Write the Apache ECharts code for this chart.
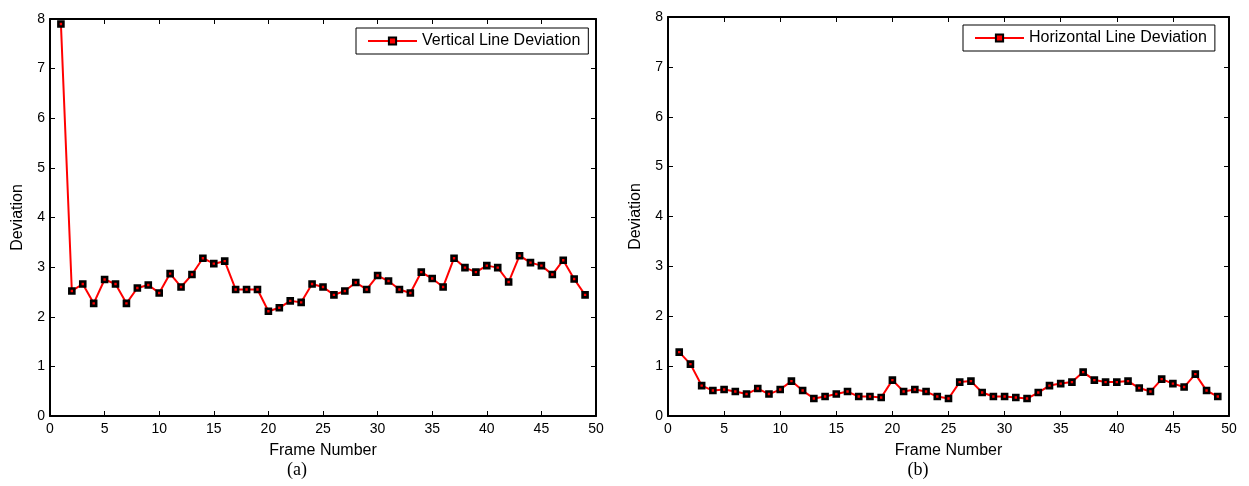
<!DOCTYPE html>
<html>
<head>
<meta charset="utf-8">
<script src="https://cdn.jsdelivr.net/npm/echarts@6/dist/echarts.min.js"></script>
<style>html,body{margin:0;padding:0;background:#fff;}#c{width:1249px;height:486px;}</style>
</head>
<body>
<div id="c"></div>
<script>
const frames = Array.from({length: 49}, (_, i) => i + 1);
const verticalDev = [7.90, 2.52, 2.66, 2.27, 2.75, 2.66, 2.27, 2.58, 2.64, 2.48,
  2.87, 2.60, 2.85, 3.18, 3.07, 3.12, 2.55, 2.55, 2.55, 2.11,
  2.18, 2.32, 2.29, 2.66, 2.60, 2.44, 2.52, 2.69, 2.55, 2.83,
  2.72, 2.55, 2.48, 2.90, 2.77, 2.60, 3.18, 2.99, 2.90, 3.03,
  2.99, 2.70, 3.23, 3.09, 3.03, 2.85, 3.14, 2.76, 2.44];
const horizontalDev = [1.28, 1.04, 0.61, 0.51, 0.53, 0.49, 0.44, 0.55, 0.44, 0.53,
  0.70, 0.51, 0.35, 0.39, 0.44, 0.49, 0.39, 0.39, 0.37, 0.72,
  0.49, 0.53, 0.49, 0.39, 0.35, 0.68, 0.70, 0.47, 0.39, 0.39,
  0.37, 0.35, 0.47, 0.61, 0.65, 0.68, 0.88, 0.72, 0.68, 0.68,
  0.70, 0.56, 0.49, 0.74, 0.65, 0.58, 0.84, 0.51, 0.39];
const seriesNames = ['Vertical Line Deviation', 'Horizontal Line Deviation'];
const xTitle = 'Frame Number';
const yTitle = 'Deviation';
const panelLabels = ['(a)', '(b)'];

const FONT = 'Liberation Sans, Arial, sans-serif';
const axisLine = {show: true, onZero: false, lineStyle: {color: '#000', width: 2}};
const tick = {show: true, inside: true, length: 5, lineStyle: {color: '#000', width: 1}};

function xAx(gi, pos, main) {
  return {
    type: 'value', gridIndex: gi, position: pos, min: 0, max: 50, interval: 5,
    axisLine: axisLine, axisTick: tick, splitLine: {show: false},
    axisLabel: {show: main, color: '#000', fontSize: 14, fontFamily: FONT, margin: 6},
    name: main ? xTitle : '', nameLocation: 'middle', nameGap: 27,
    nameTextStyle: {color: '#000', fontSize: 16, fontFamily: FONT}
  };
}
function yAx(gi, pos, main) {
  return {
    type: 'value', gridIndex: gi, position: pos, min: 0, max: 8, interval: 1,
    axisLine: axisLine, axisTick: tick, splitLine: {show: false},
    axisLabel: {show: main, color: '#000', fontSize: 14, fontFamily: FONT, margin: 5},
    name: main ? yTitle : '', nameLocation: 'middle', nameGap: 24,
    nameTextStyle: {color: '#000', fontSize: 16, fontFamily: FONT}
  };
}
function ser(name, data, xi, yi) {
  return {
    name: name, type: 'line', xAxisIndex: xi, yAxisIndex: yi,
    data: frames.map((f, i) => [f, data[i]]),
    lineStyle: {color: '#ff0000', width: 2},
    symbol: 'rect', symbolSize: 5,
    itemStyle: {color: '#ff0000', borderColor: '#000', borderWidth: 2.6},
    animation: false
  };
}
function legend(name, left, top) {
  return {
    data: [name], left: left, top: top, orient: 'horizontal',
    backgroundColor: '#fff', borderColor: '#000', borderWidth: 1,
    padding: [5, 8, 5, 11], itemWidth: 49, itemHeight: 9,
    textStyle: {color: '#000', fontSize: 16, fontFamily: FONT},
    selectedMode: false
  };
}

const chart = echarts.init(document.getElementById('c'), null, {renderer: 'canvas'});
chart.setOption({
  backgroundColor: '#fff',
  animation: false,
  grid: [
    {left: 50, right: 653, top: 19, bottom: 70},
    {left: 668, right: 20, top: 17, bottom: 70}
  ],
  xAxis: [xAx(0, 'bottom', true), xAx(0, 'top', false), xAx(1, 'bottom', true), xAx(1, 'top', false)],
  yAxis: [yAx(0, 'left', true), yAx(0, 'right', false), yAx(1, 'left', true), yAx(1, 'right', false)],
  legend: [legend(seriesNames[0], 356, 28), legend(seriesNames[1], 963, 25)],
  series: [ser(seriesNames[0], verticalDev, 0, 0), ser(seriesNames[1], horizontalDev, 2, 2)],
  graphic: [
    {type: 'text', x: 297, y: 461, style: {text: panelLabels[0], font: '18px "Liberation Serif", "Times New Roman", serif', fill: '#000', textAlign: 'center'}},
    {type: 'text', x: 918, y: 461, style: {text: panelLabels[1], font: '18px "Liberation Serif", "Times New Roman", serif', fill: '#000', textAlign: 'center'}}
  ]
});
</script>
</body>
</html>
